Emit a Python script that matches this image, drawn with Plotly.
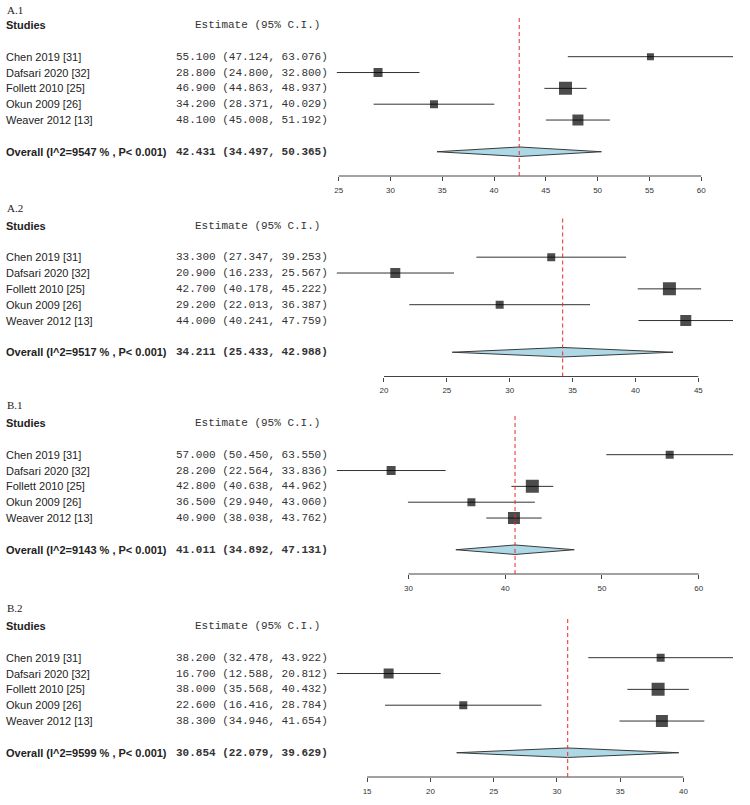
import plotly.graph_objects as go

# study labels shared by all four panels
studies = ["Chen 2019 [31]", "Dafsari 2020 [32]", "Follett 2010 [25]",
           "Okun 2009 [26]", "Weaver 2012 [13]"]

panel_names = ["A.1", "A.2", "B.1", "B.2"]

a1_est = [55.100, 28.800, 46.900, 34.200, 48.100]
a1_lo = [47.124, 24.800, 44.863, 28.371, 45.008]
a1_hi = [63.076, 32.800, 48.937, 40.029, 51.192]
a1_overall = [42.431, 34.497, 50.365]
a1_i2 = "9547"
a1_ticks = [25, 30, 35, 40, 45, 50, 55, 60]

a2_est = [33.300, 20.900, 42.700, 29.200, 44.000]
a2_lo = [27.347, 16.233, 40.178, 22.013, 40.241]
a2_hi = [39.253, 25.567, 45.222, 36.387, 47.759]
a2_overall = [34.211, 25.433, 42.988]
a2_i2 = "9517"
a2_ticks = [20, 25, 30, 35, 40, 45]

b1_est = [57.000, 28.200, 42.800, 36.500, 40.900]
b1_lo = [50.450, 22.564, 40.638, 29.940, 38.038]
b1_hi = [63.550, 33.836, 44.962, 43.060, 43.762]
b1_overall = [41.011, 34.892, 47.131]
b1_i2 = "9143"
b1_ticks = [30, 40, 50, 60]

b2_est = [38.200, 16.700, 38.000, 22.600, 38.300]
b2_lo = [32.478, 12.588, 35.568, 16.416, 34.946]
b2_hi = [43.922, 20.812, 40.432, 28.784, 41.654]
b2_overall = [30.854, 22.079, 39.629]
b2_i2 = "9599"
b2_ticks = [15, 20, 25, 30, 35, 40]

# box side (px) of each study square, per panel
box_a1 = [7, 9, 13, 8, 11]
box_a2 = [8, 10, 13, 8, 11]
box_b1 = [8, 9, 13, 8, 12]
box_b2 = [8, 10, 13, 8, 12]

panels = [
    (a1_est, a1_lo, a1_hi, a1_overall, a1_i2, a1_ticks, box_a1),
    (a2_est, a2_lo, a2_hi, a2_overall, a2_i2, a2_ticks, box_a2),
    (b1_est, b1_lo, b1_hi, b1_overall, b1_i2, b1_ticks, box_b1),
    (b2_est, b2_lo, b2_hi, b2_overall, b2_i2, b2_ticks, box_b2),
]

W, H = 750, 805
header_px = [25, 225.5, 423, 626]   # pixel y of the "Studies" header row
label_px = [10, 207.5, 405, 608]    # pixel y of the panel letters
row_px = 15.84
top_off, bot_off = 9, 151           # plot area above/below the header row
x_left, x_right = 335.5, 733.0

SANS = "Liberation Sans, Arial, sans-serif"
MONO = "Liberation Mono, Courier New, monospace"
SERIF = "Liberation Serif, Times New Roman, serif"
INK = "#222222"
LINE = "#333333"

rows = list(range(2, 2 + len(studies)))
overall_row = rows[-1] + 2

fig = go.Figure()
annotations = []
shapes = []

for k, (est, lo, hi, overall, i2, ticks, boxes) in enumerate(panels):
    n = k + 1
    xa = "x" if n == 1 else "x" + str(n)
    ya = "y" if n == 1 else "y" + str(n)
    hp = header_px[k]

    # confidence interval lines
    xs, ys = [], []
    for l, h, r in zip(lo, hi, rows):
        xs += [l, h, None]
        ys += [r, r, None]
    fig.add_trace(go.Scatter(x=xs, y=ys, mode="lines", xaxis=xa, yaxis=ya,
                             line=dict(color=LINE, width=1), hoverinfo="skip"))

    # study boxes
    fig.add_trace(go.Scatter(x=est, y=rows, mode="markers", xaxis=xa, yaxis=ya,
                             marker=dict(symbol="square", size=boxes, color="black",
                                         line=dict(width=0))))

    # summary diamond
    dh = 0.3
    fig.add_trace(go.Scatter(
        x=[overall[1], overall[0], overall[2], overall[0], overall[1]],
        y=[overall_row, overall_row - dh, overall_row, overall_row + dh, overall_row],
        mode="lines", fill="toself", fillcolor="lightblue", xaxis=xa, yaxis=ya,
        line=dict(color="#3a3a3a", width=1)))

    # axes
    ytop = 1 - (hp - top_off) / H
    ybot = 1 - (hp + bot_off) / H
    r0 = -top_off / row_px
    r1 = bot_off / row_px
    fig.layout[("xaxis" if n == 1 else "xaxis" + str(n))] = dict(
        domain=[x_left / W, x_right / W], anchor=ya,
        range=[min(lo), max(hi)], showgrid=False, zeroline=False, showline=False,
        tickvals=ticks, ticks="outside", ticklen=4, tickwidth=1, tickcolor="#444",
        tickfont=dict(family=SANS, size=8, color="#333"), ticklabelstandoff=2)
    fig.layout[("yaxis" if n == 1 else "yaxis" + str(n))] = dict(
        domain=[ybot, ytop], anchor=xa, range=[r1, r0], visible=False)

    # axis baseline between first and last tick
    shapes.append(dict(type="line", xref=xa, yref=ya + " domain",
                       x0=ticks[0], x1=ticks[-1], y0=0, y1=0,
                       line=dict(color="#444", width=1)))
    # dashed line at overall estimate
    shapes.append(dict(type="line", xref=xa, yref=ya + " domain",
                       x0=overall[0], x1=overall[0], y0=0, y1=1,
                       line=dict(color="#ee2a2a", width=1, dash="4px,3px")))

    # text columns
    def add_text(x, y, text, font, anchor="left"):
        annotations.append(dict(x=x / W, xref="paper", y=y, yref=ya, text=text,
                                showarrow=False, xanchor=anchor, yanchor="middle",
                                font=font))

    annotations.append(dict(x=3 / W, xref="paper", y=1 - label_px[k] / H, yref="paper",
                            text=panel_names[k], showarrow=False, xanchor="left",
                            yanchor="middle", font=dict(family=SERIF, size=11, color=INK)))
    add_text(2, 0, "<b>Studies</b>", dict(family=SANS, size=11, color=INK))
    add_text(192, 0, "Estimate (95% C.I.)", dict(family=MONO, size=11, color=LINE))
    for name, e, l, h, r in zip(studies, est, lo, hi, rows):
        add_text(2, r, name, dict(family=SANS, size=11, color=INK))
        add_text(172, r, "%.3f (%.3f, %.3f)" % (e, l, h),
                 dict(family=MONO, size=11, color=LINE))
    add_text(2, overall_row, "<b>Overall (I^2=%s %% , P< 0.001)</b>" % i2,
             dict(family=SANS, size=11, color=INK))
    add_text(172, overall_row, "<b>%.3f (%.3f, %.3f)</b>" % tuple(overall),
             dict(family=MONO, size=11, color=LINE))

fig.update_layout(width=W, height=H, margin=dict(l=0, r=0, t=0, b=0),
                  paper_bgcolor="white", plot_bgcolor="white", showlegend=False,
                  annotations=annotations, shapes=shapes)
# the page's default 8px body margin would push the figure off the window
fig.write_html("out.html", config={"displayModeBar": False},
               post_script="document.body.style.margin='0';")
